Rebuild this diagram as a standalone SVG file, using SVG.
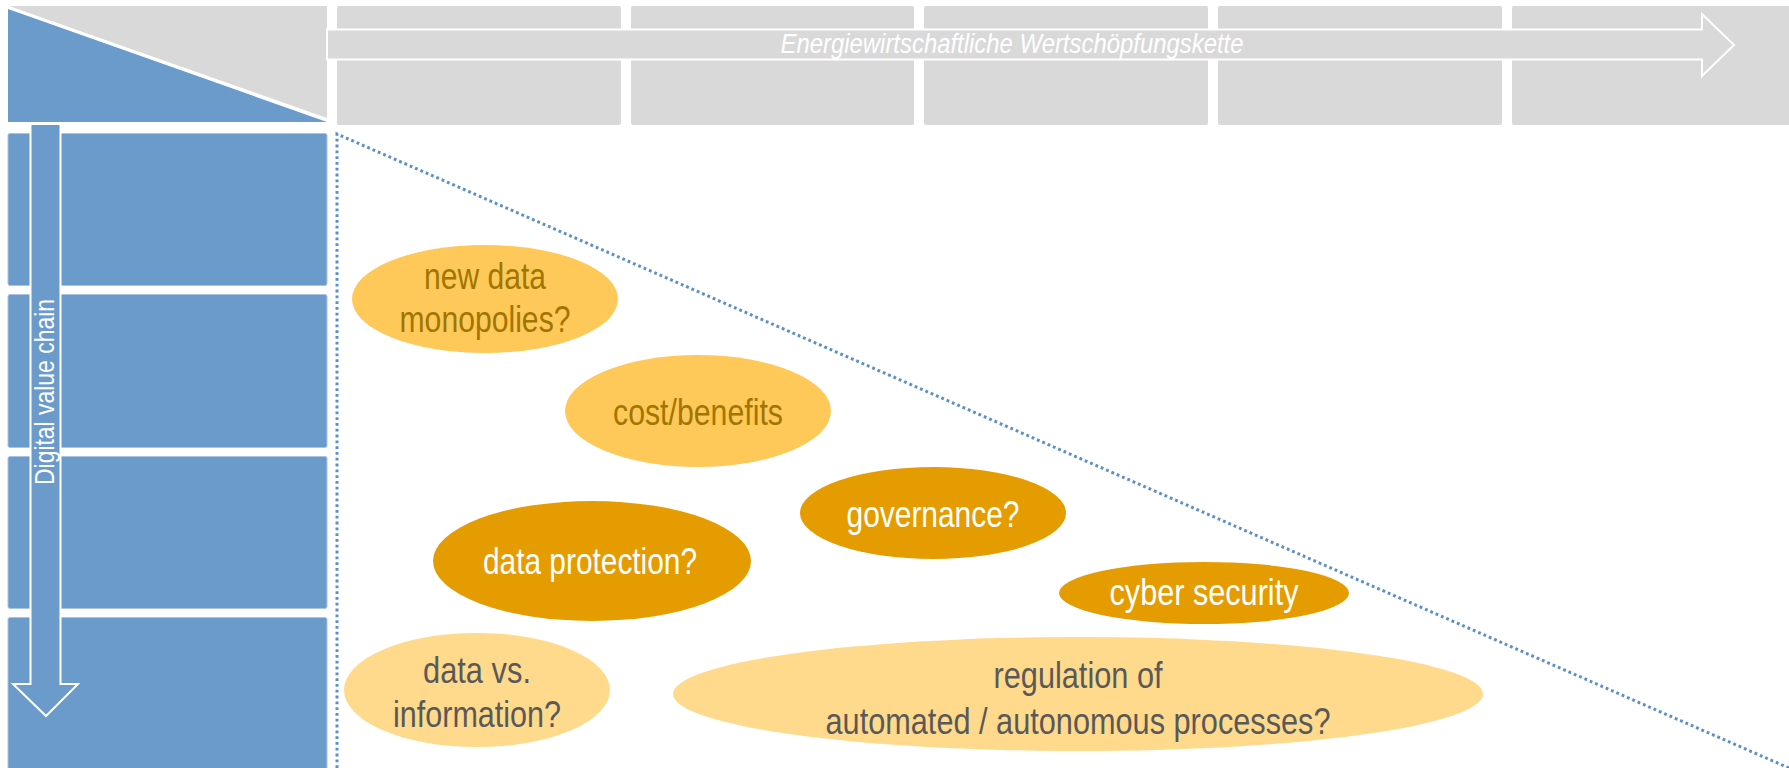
<svg xmlns="http://www.w3.org/2000/svg" width="1789" height="768" viewBox="0 0 1789 768">
<style>
.gray{fill:#d9d9d9}
.blue{fill:#6a9bca;stroke:#a9c3e0;stroke-width:1}
.t{font-family:"Liberation Sans Narrow","Liberation Sans",Arial,sans-serif;text-anchor:middle}
.lt{fill:#ffc95a}
.dk{fill:#e59c00}
.pl{fill:#ffda8c}
.tlt{fill:#a07600;font-size:36px}
.tdk{fill:#ffffff;font-size:36px}
.tpl{fill:#595959;font-size:36px}
</style>
<rect width="1789" height="768" fill="#ffffff"/>
<g id="header">
<polygon class="gray" points="8,6 327,6 327,118"/>
<polygon points="8,9 327,122 8,122" fill="#6a9bca"/>
<line x1="8" y1="7" x2="327" y2="120" stroke="#ffffff" stroke-width="2.5"/>
<rect class="gray" x="337" y="6" width="284" height="119" rx="2"/>
<rect class="gray" x="631" y="6" width="283" height="119" rx="2"/>
<rect class="gray" x="924" y="6" width="284" height="119" rx="2"/>
<rect class="gray" x="1218" y="6" width="284" height="119" rx="2"/>
<rect class="gray" x="1512" y="6" width="280" height="119" rx="2"/>
</g>
<g id="value-chain-arrow">
<polygon points="327,29.5 1702,29.5 1702,14 1734,45 1702,76 1702,59.5 327,59.5" fill="#d9d9d9" stroke="#ffffff" stroke-width="2"/>
<text class="t" x="1012" y="53" font-size="27" font-style="italic" fill="#ffffff" textLength="463" lengthAdjust="spacingAndGlyphs">Energiewirtschaftliche Wertschöpfungskette</text>
</g>
<g id="left-column">
<rect class="blue" x="8" y="133.5" width="319" height="152" rx="2"/>
<rect class="blue" x="8" y="294.5" width="319" height="153" rx="2"/>
<rect class="blue" x="8" y="456.5" width="319" height="152" rx="2"/>
<rect class="blue" x="8" y="617.5" width="319" height="160" rx="2"/>
</g>
<g id="digital-arrow">
<polygon points="30.5,124 60.5,124 60.5,684 78,684 46,716 13,684 30.5,684" fill="#6a9bca" stroke="#ffffff" stroke-width="2"/>
<text class="t" transform="translate(54,392) rotate(-90)" x="0" y="0" font-size="28" fill="#ffffff" textLength="186" lengthAdjust="spacingAndGlyphs">Digital value chain</text>
</g>
<g id="connectors">
<polyline points="337,768 337,134 1789,768" fill="none" stroke="#5b8fc9" stroke-width="3" stroke-dasharray="2.8 3"/>
</g>
<g id="node-new-data">
<ellipse class="lt" cx="485" cy="299" rx="133" ry="54"/>
<text class="t tlt" x="485" y="289" textLength="122" lengthAdjust="spacingAndGlyphs">new data</text>
<text class="t tlt" x="485" y="332" textLength="171" lengthAdjust="spacingAndGlyphs">monopolies?</text>
</g>
<g id="node-cost">
<ellipse class="lt" cx="698" cy="411" rx="133" ry="56"/>
<text class="t tlt" x="698" y="425" textLength="170" lengthAdjust="spacingAndGlyphs">cost/benefits</text>
</g>
<g id="node-governance">
<ellipse class="dk" cx="933" cy="513" rx="133" ry="46"/>
<text class="t tdk" x="933" y="527" textLength="173" lengthAdjust="spacingAndGlyphs">governance?</text>
</g>
<g id="node-protection">
<ellipse class="dk" cx="592" cy="561" rx="159" ry="60"/>
<text class="t tdk" x="590" y="574" textLength="214" lengthAdjust="spacingAndGlyphs">data protection?</text>
</g>
<g id="node-cyber">
<ellipse class="dk" cx="1204" cy="593" rx="145" ry="31"/>
<text class="t tdk" x="1204" y="605" textLength="189" lengthAdjust="spacingAndGlyphs">cyber security</text>
</g>
<g id="node-data-vs">
<ellipse class="pl" cx="477" cy="690" rx="133" ry="57"/>
<text class="t tpl" x="477" y="683" textLength="108" lengthAdjust="spacingAndGlyphs">data vs.</text>
<text class="t tpl" x="477" y="727" textLength="168" lengthAdjust="spacingAndGlyphs">information?</text>
</g>
<g id="node-regulation">
<ellipse class="pl" cx="1078" cy="694" rx="405" ry="57"/>
<text class="t tpl" x="1078" y="688" textLength="169" lengthAdjust="spacingAndGlyphs">regulation of</text>
<text class="t tpl" x="1078" y="734" textLength="505" lengthAdjust="spacingAndGlyphs">automated / autonomous processes?</text>
</g>
</svg>
